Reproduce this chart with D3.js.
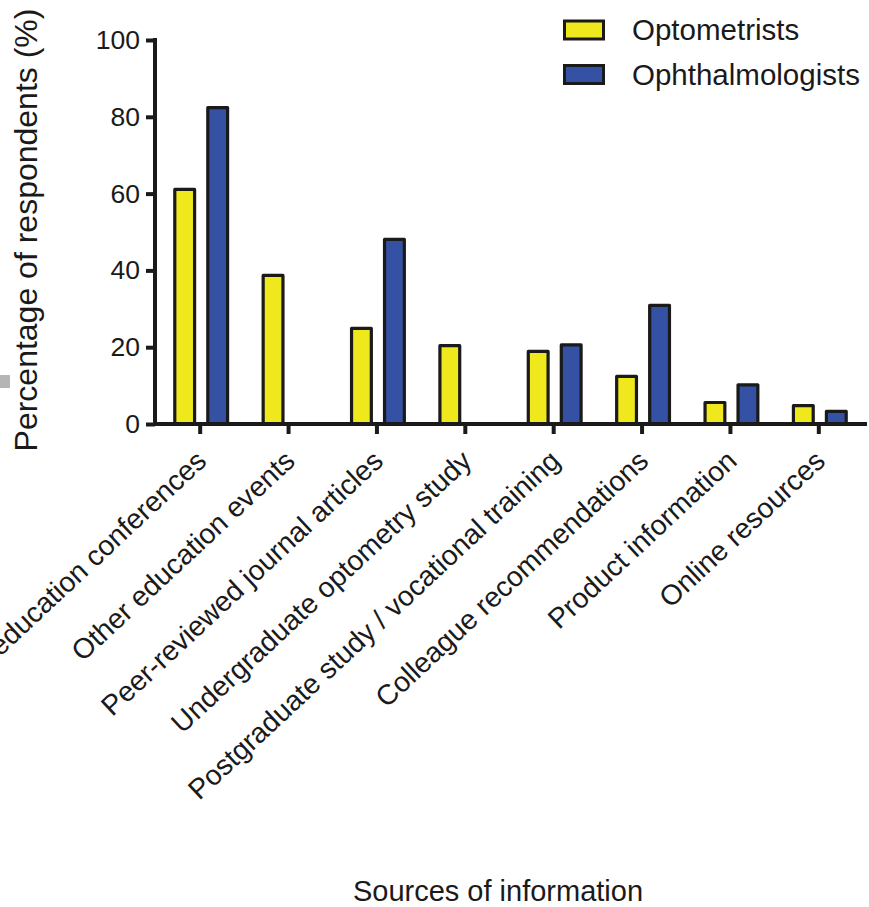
<!DOCTYPE html>
<html>
<head>
<meta charset="utf-8">
<script src="https://cdn.jsdelivr.net/npm/d3@7"></script>
<style>
  html, body { margin: 0; padding: 0; background: #ffffff; }
  svg { display: block; }
  text { font-family: "Liberation Sans", Arial, Helvetica, sans-serif; fill: #1a1a1a; }
</style>
</head>
<body>
<svg id="chart" width="869" height="907"></svg>
<script>
// Sources of information used by each profession (% of respondents)
const categories = [
  "Continuing education conferences",
  "Other education events",
  "Peer-reviewed journal articles",
  "Undergraduate optometry study",
  "Postgraduate study / vocational training",
  "Colleague recommendations",
  "Product information",
  "Online resources"
];
const seriesNames = ["Optometrists", "Ophthalmologists"];
const optometrists     = [61.1, 38.7, 24.9, 20.4, 18.9, 12.4, 5.6, 4.8];
const ophthalmologists = [82.4, null, 48.1, null, 20.6, 30.9, 10.2, 3.3];
const yTicks = [0, 20, 40, 60, 80, 100];

const colors = { "Optometrists": "#efe81c", "Ophthalmologists": "#3551a3" };
const ink = "#1a1a1a";

const svg = d3.select("#chart");
svg.append("rect").attr("width", 869).attr("height", 907).attr("fill", "#fff");

// small grey marker at the left margin
svg.append("rect").attr("x", 0).attr("y", 375).attr("width", 10).attr("height", 13).attr("fill", "#b5b5b5");

const axisX = 155;      // y-axis position
const axisRight = 867;  // end of x-axis line

const y = d3.scaleLinear().domain([0, 100]).range([424, 40]);
const x = d3.scaleBand().domain(categories).range([156, 863]).paddingInner(0).paddingOuter(0);
const xs = d3.scaleBand().domain(seriesNames).range([-27, 29]).paddingInner(0.303).paddingOuter(0);

const rows = categories.map((c, i) => ({
  cat: c,
  vals: [
    { s: "Optometrists", v: optometrists[i] },
    { s: "Ophthalmologists", v: ophthalmologists[i] }
  ].filter(d => d.v != null)
}));

// bars
const sw = 3.2;
const groups = svg.append("g").selectAll("g").data(rows).join("g")
  .attr("transform", d => `translate(${x(d.cat) + x.bandwidth() / 2},0)`);
groups.selectAll("rect").data(d => d.vals).join("rect")
  .attr("x", d => xs(d.s) + sw / 2)
  .attr("width", xs.bandwidth() - sw)
  .attr("y", d => y(d.v))
  .attr("height", d => y(0) - y(d.v))
  .attr("fill", d => colors[d.s])
  .attr("stroke", ink)
  .attr("stroke-width", sw)
  .attr("stroke-linejoin", "round");

// y axis
const yAxis = d3.axisLeft(y).tickValues(yTicks).tickSize(9).tickPadding(6).tickSizeOuter(0);
const gy = svg.append("g").attr("transform", `translate(${axisX},0)`).call(yAxis);
gy.select(".domain").attr("stroke", ink).attr("stroke-width", 4)
  .attr("d", `M0,${y(0) + 2}V${y(100) - 2}`);
gy.selectAll(".tick line").attr("stroke", ink).attr("stroke-width", 4);
gy.selectAll(".tick text").attr("font-size", 26.5).attr("fill", ink)
  .style("font-family", '"Liberation Sans", Arial, sans-serif');

// x axis
const xAxis = d3.axisBottom(x).tickSize(10).tickSizeOuter(0).tickFormat("");
const gx = svg.append("g").attr("transform", `translate(0,${y(0)})`).call(xAxis);
gx.select(".domain").attr("stroke", ink).attr("stroke-width", 4)
  .attr("d", `M${axisX - 2},0H${axisRight}`);
gx.selectAll(".tick line").attr("stroke", ink).attr("stroke-width", 4);

// rotated category labels
svg.append("g").selectAll("text").data(categories).join("text")
  .attr("transform", d => `translate(${x(d) + x.bandwidth() / 2 + 8},${y(0) + 39}) rotate(-43)`)
  .attr("text-anchor", "end")
  .attr("font-size", 28.3)
  .text(d => d);

// axis titles
svg.append("text")
  .attr("transform", `translate(37,230) rotate(-90)`)
  .attr("text-anchor", "middle")
  .attr("font-size", 32)
  .text("Percentage of respondents (%)");

svg.append("text")
  .attr("x", 498).attr("y", 901)
  .attr("text-anchor", "middle")
  .attr("font-size", 29)
  .text("Sources of information");

// legend
const legend = svg.append("g").selectAll("g").data(seriesNames).join("g")
  .attr("transform", (d, i) => `translate(564.5,${21 + i * 44.5})`);
legend.append("rect")
  .attr("width", 39).attr("height", 18)
  .attr("fill", d => colors[d])
  .attr("stroke", ink).attr("stroke-width", 3);
legend.append("text")
  .attr("x", 67.5).attr("y", 19)
  .attr("font-size", 29.5)
  .text(d => d);
</script>
</body>
</html>
